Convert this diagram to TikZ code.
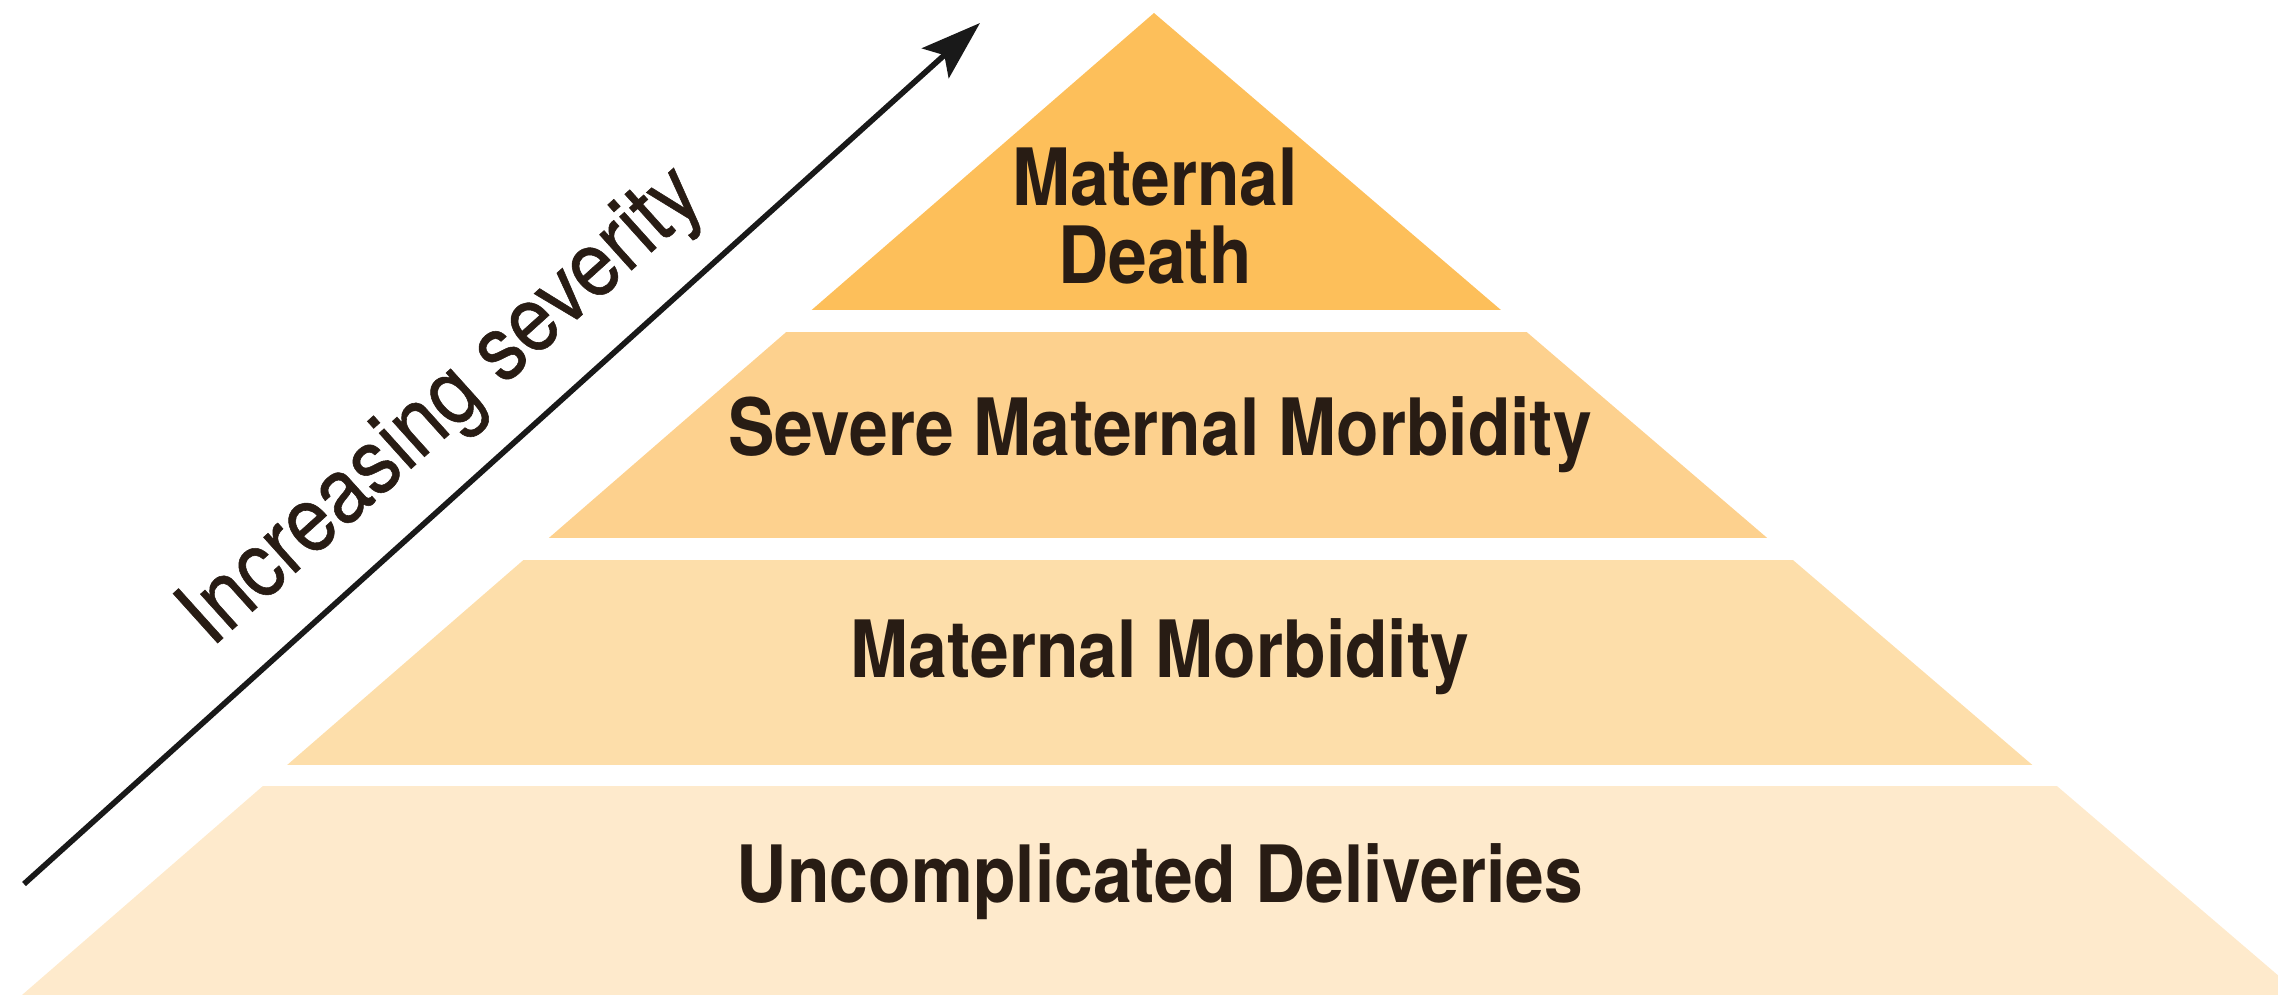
\documentclass[tikz,border=0pt]{standalone}
\usepackage{fontspec}
\setmainfont{TeX Gyre Heros}[FakeStretch=0.88]
\usepackage{xcolor}
\usetikzlibrary{arrows.meta, positioning}

\definecolor{deathfill}{RGB}{253,191,90}
\definecolor{smmfill}{RGB}{253,209,142}
\definecolor{mmfill}{RGB}{253,222,170}
\definecolor{ucdfill}{RGB}{254,234,204}
\definecolor{labeltext}{RGB}{40,28,20}
\definecolor{arrowgray}{RGB}{25,25,25}

\begin{document}
\begin{tikzpicture}[
    tier/.style={font=\bfseries\fontsize{22.5}{22}\selectfont, text=labeltext, align=center},
    severity/.style={font=\fontsize{26}{28}\selectfont\addfontfeatures{FakeBold=0.6}, text=labeltext},
    arrow/.style={-{Stealth[length=6mm, width=4mm, inset=1.2mm]}, line width=1.6pt, draw=arrowgray}
]
\useasboundingbox (0,0) rectangle (22.78,10.01);
\coordinate (apex) at (11.54,9.88);
\coordinate (baseL) at (0.22,0.06);
\coordinate (baseR) at (23.01,0.06);

% the four bands, cut out of one big triangle
\begin{scope}
\clip (0,0) rectangle (22.78,10.01);
\clip (apex) -- (baseL) -- (baseR) -- cycle;
\fill[deathfill] (0,6.91) rectangle (22.78,9.90);
\fill[smmfill] (0,4.63) rectangle (22.78,6.69);
\fill[mmfill] (0,2.36) rectangle (22.78,4.41);
\fill[ucdfill] (0,0.06) rectangle (22.78,2.15);
\end{scope}

\node (death) at (11.55,7.85) [tier] {Maternal\\Death};
\node (smm) at (11.60,5.66) [tier] {Severe Maternal Morbidity};
\node (mm) at (11.60,3.44) [tier] {Maternal Morbidity};
\node (ucd) at (11.60,1.19) [tier] {Uncomplicated Deliveries};

% severity arrow along the left flank
\coordinate (tail) at (0.24,1.17);
\coordinate (tip) at (9.80,9.78);
\draw[arrow] (tail) -- node[pos=0.49, sloped, above=1.5mm, severity] (sev) {Increasing severity} (tip);
\end{tikzpicture}
\end{document}
